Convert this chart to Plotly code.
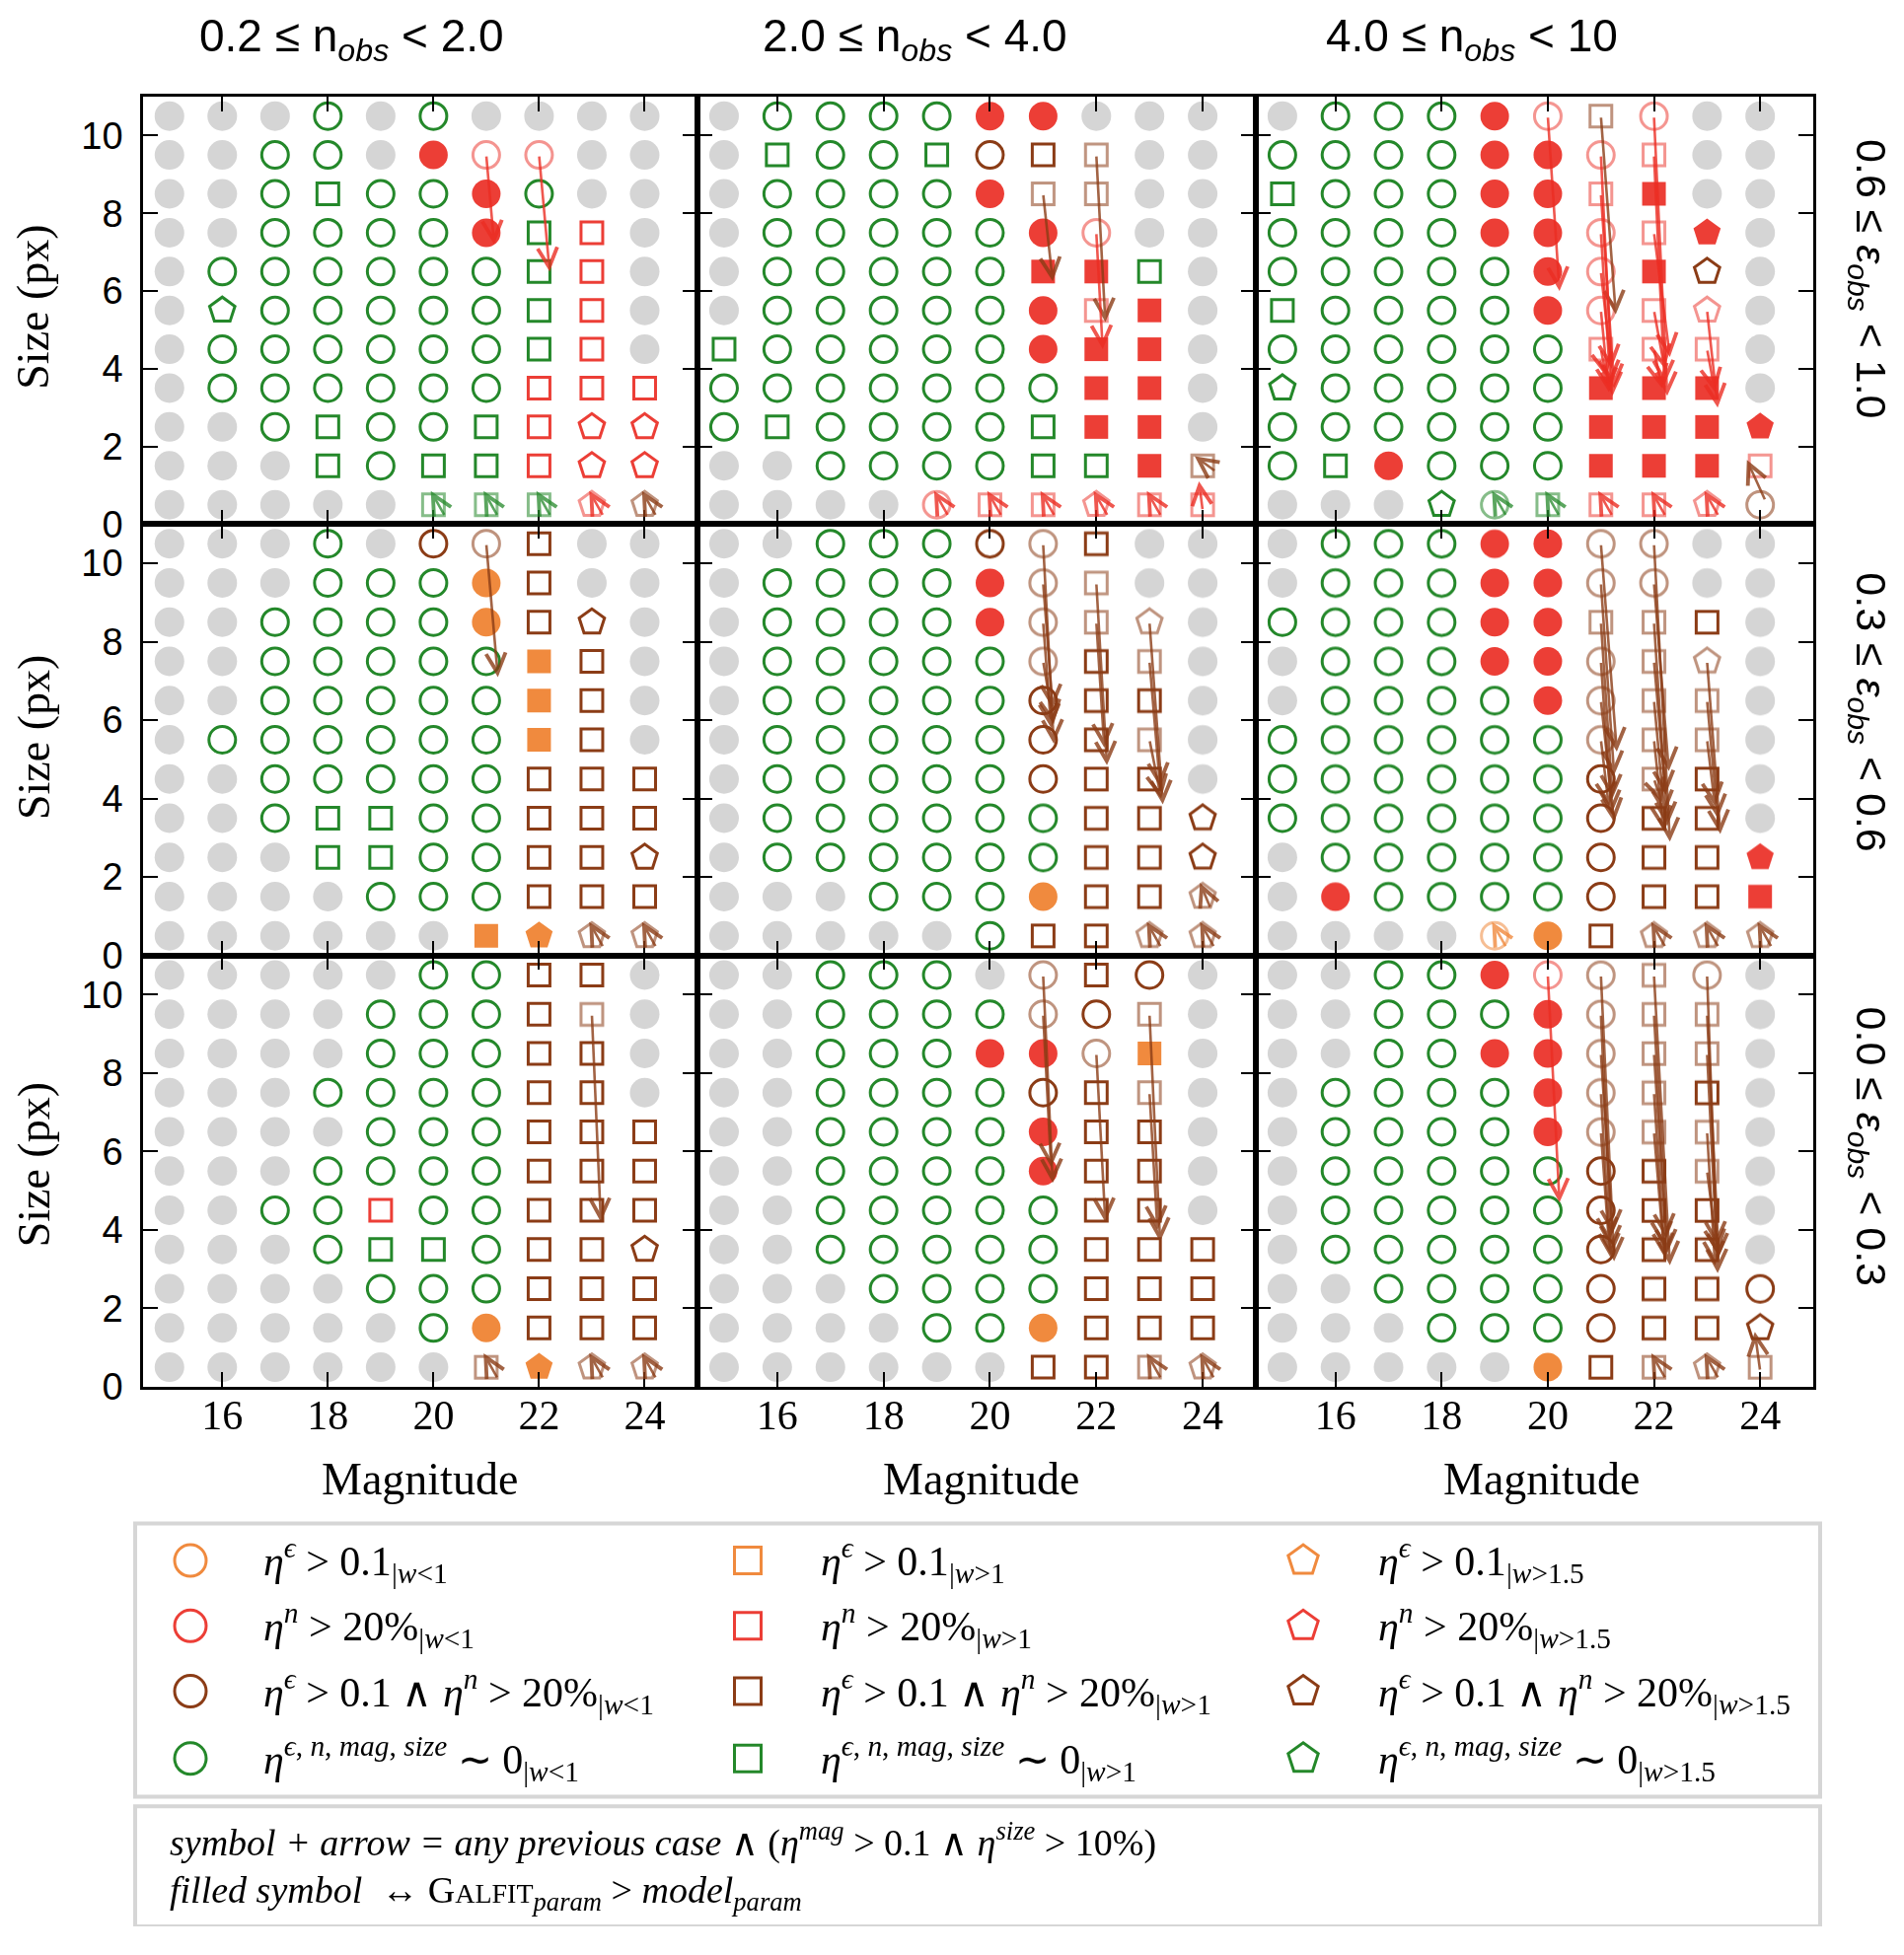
import plotly.graph_objects as go

# ---------------- data ----------------
MAGS = [15, 16, 17, 18, 19, 20, 21, 22, 23, 24]
SIZES = [10.5, 9.5, 8.5, 7.5, 6.5, 5.5, 4.5, 3.5, 2.5, 1.5, 0.5]
X_TICKS = [16, 18, 20, 22, 24]
Y_TICKS = [0, 2, 4, 6, 8, 10]

N_LABELS = ['0.2 ≤ n<sub><i>obs</i></sub> &lt; 2.0',
            '2.0 ≤ n<sub><i>obs</i></sub> &lt; 4.0',
            '4.0 ≤ n<sub><i>obs</i></sub> &lt; 10']
E_LABELS = ['0.6 ≤ <i>ε<sub>obs</sub></i> &lt; 1.0',
            '0.3 ≤ <i>ε<sub>obs</sub></i> &lt; 0.6',
            '0.0 ≤ <i>ε<sub>obs</sub></i> &lt; 0.3']

# cell codes, top row = size 10.5 : '.' no data (grey)
# colour g/r/b/a (green, red, brown, orange) + shape o/s/p, upper case = filled,
# '*' = symbol with arrow (drawn faded)
GRID_E06_N02 = [
    '.   .   .   go  .   go  .   .   .   .',
    '.   .   go  go  .   rO  ro* ro* .   .',
    '.   .   go  gs  go  go  rO  go  .   .',
    '.   .   go  go  go  go  rO  gs  rs  .',
    '.   go  go  go  go  go  go  gs  rs  .',
    '.   gp  go  go  go  go  go  gs  rs  .',
    '.   go  go  go  go  go  go  gs  rs  .',
    '.   go  go  go  go  go  go  rs  rs  rs',
    '.   .   go  gs  go  go  gs  rs  rp  rp',
    '.   .   .   gs  go  gs  gs  rs  rp  rp',
    '.   .   .   .   .   gs* gs* gs* rp* bp*',
]
GRID_E06_N2 = [
    '.   go  go  go  go  rO  rO  .   .   .',
    '.   gs  go  go  gs  bo  bs  bs* .   .',
    '.   go  go  go  go  rO  bs* bs* .   .',
    '.   go  go  go  go  go  rO  ro* .   .',
    '.   go  go  go  go  go  rS  rS  gs  .',
    '.   go  go  go  go  go  rO  rs* rS  .',
    'gs  go  go  go  go  go  rO  rS  rS  .',
    'go  go  go  go  go  go  go  rS  rS  .',
    'go  gs  go  go  go  go  gs  rS  rS  .',
    '.   .   go  go  go  go  gs  gs  rS  bs*',
    '.   .   .   .   ro* rs* rs* rp* rs* rs*',
]
GRID_E06_N4 = [
    '.   go  go  go  rO  ro* bs* ro* .   .',
    'go  go  go  go  rO  rO  ro* rs* .   .',
    'gs  go  go  go  rO  rO  rs* rS  .   .',
    'go  go  go  go  rO  rO  ro* rs* rP  .',
    'go  go  go  go  go  rO  ro* rS  bp  .',
    'gs  go  go  go  go  rO  ro* rs* rp* .',
    'go  go  go  go  go  go  rs* rs* rs* .',
    'gp  go  go  go  go  go  rS  rS  rS  .',
    'go  go  go  go  go  go  rS  rS  rS  rP',
    'go  gs  rO  go  go  go  rS  rS  rS  rs*',
    '.   .   .   gp  go* gs* rs* rs* rp* bo*',
]
GRID_E03_N02 = [
    '.   .   .   go  .   bo  bo* bs  .   .',
    '.   .   .   go  go  go  aO  bs  .   .',
    '.   .   go  go  go  go  aO  bs  bp  .',
    '.   .   go  go  go  go  go  aS  bs  .',
    '.   .   go  go  go  go  go  aS  bs  .',
    '.   go  go  go  go  go  go  aS  bs  .',
    '.   .   go  go  go  go  go  bs  bs  bs',
    '.   .   go  gs  gs  go  go  bs  bs  bs',
    '.   .   .   gs  gs  go  go  bs  bs  bp',
    '.   .   .   .   go  go  go  bs  bs  bs',
    '.   .   .   .   .   .   aS  aP  bp* bp*',
]
GRID_E03_N2 = [
    '.   .   go  go  go  bo  bo* bs  .   .',
    '.   go  go  go  go  rO  bo* bs* .   .',
    '.   go  go  go  go  rO  bo* bs* bp* .',
    '.   go  go  go  go  go  bo* bs  bs* .',
    '.   go  go  go  go  go  bo  bs  bs  .',
    '.   go  go  go  go  go  bo  bs  bs* .',
    '.   go  go  go  go  go  bo  bs  bs  .',
    '.   go  go  go  go  go  go  bs  bs  bp',
    '.   go  go  go  go  go  go  bs  bs  bp',
    '.   .   .   go  go  go  aO  bs  bs  bp*',
    '.   .   .   .   .   go  bs  bs  bp* bp*',
]
GRID_E03_N4 = [
    '.   go  go  go  rO  rO  bo* bo* .   .',
    '.   go  go  go  rO  rO  bo* bo* .   .',
    'go  go  go  go  rO  rO  bs* bs* bs  .',
    '.   go  go  go  rO  rO  bo* bs* bp* .',
    '.   go  go  go  go  rO  bo* bs* bs* .',
    'go  go  go  go  go  go  bo* bs* bs* .',
    'go  go  go  go  go  go  bo  bs* bs  .',
    'go  go  go  go  go  go  bo  bs  bs  .',
    '.   go  go  go  go  go  bo  bs  bs  rP',
    '.   rO  go  go  go  go  bo  bs  bs  rS',
    '.   .   .   .   ao* aO  bs  bp* bp* bp*',
]
GRID_E00_N02 = [
    '.   .   .   .   .   go  go  bs  bs  .',
    '.   .   .   .   go  go  go  bs  bs* .',
    '.   .   .   .   go  go  go  bs  bs  .',
    '.   .   .   go  go  go  go  bs  bs  .',
    '.   .   .   .   go  go  go  bs  bs  bs',
    '.   .   .   go  go  go  go  bs  bs  bs',
    '.   .   go  go  rs  go  go  bs  bs  bs',
    '.   .   .   go  gs  gs  go  bs  bs  bp',
    '.   .   .   .   go  go  go  bs  bs  bs',
    '.   .   .   .   .   go  aO  bs  bs  bs',
    '.   .   .   .   .   .   bs* aP  bp* bp*',
]
GRID_E00_N2 = [
    '.   .   go  go  go  .   bo* bs  bo  .',
    '.   .   go  go  go  go  bo* bo  bs* .',
    '.   .   go  go  go  rO  rO  bo* aS  .',
    '.   .   go  go  go  go  bo  bs  bs* .',
    '.   .   go  go  go  go  rO  bs  bs  .',
    '.   .   go  go  go  go  rO  bs  bs  .',
    '.   .   go  go  go  go  go  bs  bs  .',
    '.   .   go  go  go  go  go  bs  bs  bs',
    '.   .   .   go  go  go  go  bs  bs  bs',
    '.   .   .   .   go  go  aO  bs  bs  bs',
    '.   .   .   .   .   .   bs  bs  bs* bp*',
]
GRID_E00_N4 = [
    '.   .   go  go  rO  ro* bo* bs* bo* .',
    '.   .   go  go  go  rO  bo* bs* bs* .',
    '.   .   go  go  rO  rO  bo* bs* bs* .',
    '.   go  go  go  go  rO  bo* bs* bs  .',
    '.   go  go  go  go  rO  bo* bs* bs* .',
    '.   go  go  go  go  go  bo  bs  bs* .',
    '.   go  go  go  go  go  bo  bs  bs  .',
    '.   go  go  go  go  go  bo  bs  bs  .',
    '.   .   go  go  go  go  bo  bs  bs  bo',
    '.   .   .   go  go  go  bo  bs  bs  bp',
    '.   .   .   .   .   aO  bs  bs* bp* bs*',
]

# arrows: (mag from, size from, mag to, size to, colour)
ARROWS_E06_N02 = [
    (21, 9.5, 21.15, 7.2, 'r'), (22, 9.5, 22.2, 6.5, 'r'),
    (20.22, 0.2, 19.95, 0.85, 'g'), (21.22, 0.2, 20.95, 0.85, 'g'),
    (22.22, 0.2, 21.95, 0.85, 'g'), (23.22, 0.2, 22.95, 0.85, 'r'),
    (24.22, 0.2, 23.95, 0.85, 'b'),
]
ARROWS_E06_N2 = [
    (21, 8.5, 21.18, 6.25, 'b'), (22, 9.5, 22.17, 5.2, 'b'), (22, 7.5, 22.12, 4.5, 'r'),
    (24.25, 1.35, 23.85, 1.75, 'b'), (24.0, 0.35, 23.93, 1.1, 'r'),
    (19.22, 0.2, 18.95, 0.85, 'r'), (20.22, 0.2, 19.95, 0.85, 'r'),
    (21.22, 0.2, 20.95, 0.85, 'r'), (22.22, 0.2, 21.95, 0.85, 'r'),
    (23.22, 0.2, 22.95, 0.85, 'r'),
]
ARROWS_E06_N4 = [
    (20, 10.5, 20.22, 6.0, 'r'), (21, 10.5, 21.28, 5.4, 'b'),
    (21, 9.5, 21.22, 3.3, 'r'), (21, 8.5, 21.25, 3.5, 'r'), (21, 7.5, 21.18, 3.6, 'r'),
    (21, 6.5, 21.2, 4.0, 'r'), (21, 5.5, 21.15, 3.4, 'r'), (21, 4.5, 21.1, 3.8, 'r'),
    (22, 10.5, 22.25, 3.3, 'r'), (22, 9.5, 22.2, 3.6, 'r'), (22, 7.5, 22.3, 4.3, 'r'),
    (22, 5.5, 22.2, 4.0, 'r'), (22, 4.5, 22.15, 3.5, 'r'),
    (23, 5.5, 23.2, 3.0, 'r'), (23, 4.5, 23.15, 3.4, 'r'),
    (24.1, 0.6, 23.75, 1.65, 'b'),
    (19.22, 0.2, 18.95, 0.85, 'g'), (20.22, 0.2, 19.95, 0.85, 'g'),
    (21.22, 0.2, 20.95, 0.85, 'r'), (22.22, 0.2, 21.95, 0.85, 'r'),
    (23.22, 0.2, 22.95, 0.85, 'r'),
]
ARROWS_E03_N02 = [
    (21, 10.5, 21.22, 7.1, 'b'),
    (23.22, 0.2, 22.95, 0.85, 'b'), (24.22, 0.2, 23.95, 0.85, 'b'),
]
ARROWS_E03_N2 = [
    (21, 10.5, 21.2, 5.4, 'b'), (21, 9.5, 21.18, 6.3, 'b'), (21, 8.5, 21.15, 5.8, 'b'),
    (21, 7.5, 21.2, 5.9, 'b'),
    (22, 9.5, 22.2, 4.85, 'b'), (22, 8.5, 22.15, 5.3, 'b'),
    (23, 8.5, 23.25, 3.85, 'b'), (23, 7.5, 23.2, 4.3, 'b'), (23, 5.5, 23.22, 4.0, 'b'),
    (24.15, 1.2, 23.95, 1.85, 'b'),
    (23.22, 0.2, 22.95, 0.85, 'b'), (24.22, 0.2, 23.95, 0.85, 'b'),
]
ARROWS_E03_N4 = [
    (21, 10.5, 21.3, 5.2, 'b'), (21, 9.5, 21.25, 4.6, 'b'), (21, 8.5, 21.22, 4.0, 'b'),
    (21, 7.5, 21.2, 3.6, 'b'), (21, 6.5, 21.25, 3.4, 'b'), (21, 5.5, 21.15, 3.8, 'b'),
    (22, 10.5, 22.3, 2.9, 'b'), (22, 9.5, 22.28, 4.7, 'b'), (22, 8.5, 22.25, 3.3, 'b'),
    (22, 7.5, 22.22, 4.1, 'b'), (22, 6.5, 22.2, 3.6, 'b'), (22, 5.5, 22.18, 3.2, 'b'),
    (22, 4.5, 22.15, 3.9, 'b'),
    (23, 7.5, 23.25, 3.1, 'b'), (23, 6.5, 23.2, 3.5, 'b'), (23, 5.5, 23.15, 3.8, 'b'),
    (19.22, 0.2, 18.95, 0.85, 'a'), (22.22, 0.2, 21.95, 0.85, 'b'),
    (23.22, 0.2, 22.95, 0.85, 'b'), (24.22, 0.2, 23.95, 0.85, 'b'),
]
ARROWS_E00_N02 = [
    (23, 9.5, 23.17, 4.2, 'b'),
    (21.22, 0.2, 20.95, 0.85, 'b'), (23.22, 0.2, 22.95, 0.85, 'b'),
    (24.22, 0.2, 23.95, 0.85, 'b'),
]
ARROWS_E00_N2 = [
    (21, 10.5, 21.18, 5.2, 'b'), (21, 9.5, 21.15, 5.6, 'b'),
    (22, 8.5, 22.17, 4.2, 'b'),
    (23, 9.5, 23.2, 3.7, 'b'), (23, 7.5, 23.15, 4.0, 'b'),
    (23.22, 0.2, 22.95, 0.85, 'b'), (24.22, 0.2, 23.95, 0.85, 'b'),
]
ARROWS_E00_N4 = [
    (20, 10.5, 20.22, 4.7, 'r'),
    (21, 10.5, 21.25, 3.2, 'b'), (21, 9.5, 21.2, 3.5, 'b'), (21, 8.5, 21.22, 3.9, 'b'),
    (21, 7.5, 21.18, 3.3, 'b'), (21, 6.5, 21.15, 3.7, 'b'),
    (22, 10.5, 22.3, 3.1, 'b'), (22, 9.5, 22.25, 3.4, 'b'), (22, 8.5, 22.22, 3.8, 'b'),
    (22, 7.5, 22.2, 3.3, 'b'), (22, 6.5, 22.18, 3.6, 'b'),
    (23, 10.5, 23.2, 2.9, 'b'), (23, 9.5, 23.22, 3.3, 'b'), (23, 8.5, 23.18, 3.6, 'b'),
    (23, 6.5, 23.15, 3.1, 'b'), (23, 5.5, 23.2, 3.4, 'b'),
    (24.0, 0.4, 23.9, 1.4, 'b'),
    (22.22, 0.2, 21.95, 0.85, 'b'), (23.22, 0.2, 22.95, 0.85, 'b'),
]

GRIDS = [[GRID_E06_N02, GRID_E06_N2, GRID_E06_N4],
         [GRID_E03_N02, GRID_E03_N2, GRID_E03_N4],
         [GRID_E00_N02, GRID_E00_N2, GRID_E00_N4]]
ARROWS = [[ARROWS_E06_N02, ARROWS_E06_N2, ARROWS_E06_N4],
          [ARROWS_E03_N02, ARROWS_E03_N2, ARROWS_E03_N4],
          [ARROWS_E00_N02, ARROWS_E00_N2, ARROWS_E00_N4]]

# legend
LEG_COLOURS = ['a', 'r', 'b', 'g']
LEG_SHAPES = ['o', 's', 'p']
LEG_COND = ['&lt;1', '&gt;1', '&gt;1.5']
LEG_TEXT = [
    '<i>η</i><sup><i>ϵ</i></sup> &gt; 0.1<sub>|<i>w</i>{}</sub>',
    '<i>η</i><sup><i>n</i></sup> &gt; 20%<sub>|<i>w</i>{}</sub>',
    '<i>η</i><sup><i>ϵ</i></sup> &gt; 0.1 ∧ <i>η</i><sup><i>n</i></sup> &gt; 20%<sub>|<i>w</i>{}</sub>',
    '<i>η</i><sup><i>ϵ</i>, <i>n</i>, <i>mag</i>, <i>size</i></sup> ∼ 0<sub>|<i>w</i>{}</sub>',
]
NOTE_TEXT = [
    '<i>symbol + arrow = any previous case</i> ∧ (<i>η</i><sup><i>mag</i></sup> &gt; 0.1 ∧ '
    '<i>η</i><sup><i>size</i></sup> &gt; 10%)',
    '<i>filled symbol</i>  ↔ G<span style="font-size:28px">ALFIT</span><sub><i>param</i></sub>'
    ' &gt; <i>model</i><sub><i>param</i></sub>',
]

# ---------------- style ----------------
COLOURS = {'g': '#24882a', 'r': '#ec3e36', 'b': '#8b3c16', 'a': '#f08a3e'}
ARROW_COLOURS = {'g': 'rgba(36,136,42,0.75)', 'r': 'rgba(236,45,35,0.8)',
                 'b': 'rgba(139,60,22,0.8)', 'a': 'rgba(240,138,62,0.8)'}
GREY = '#d5d5d5'
SYMBOLS = {'o': 'circle', 's': 'square', 'p': 'pentagon'}
OPEN_SIZE = {'o': 27, 's': 22, 'p': 27}
FILL_SIZE = {'o': 29, 's': 24, 'p': 29}
SERIF = 'Liberation Serif'
SANS = 'Liberation Sans'

PAGE_W, PAGE_H = 1930, 1982
OFF = 8
FIG_W, FIG_H = PAGE_W - 2 * OFF, PAGE_H - 2 * OFF
COL_EDGES = [145, 707, 1273, 1838]
ROW_EDGES = [99, 537, 979, 1421]


def fx(p):
    return (p - OFF) / FIG_W


def fy(p):
    return 1 - (p - OFF) / FIG_H


def marker_for(code):
    if code == '.':
        return dict(symbol='circle', size=30, color=GREY, line=dict(width=0)), 1.0
    faded = code.endswith('*')
    col = COLOURS[code[0]]
    shp = code[1]
    if shp.isupper():
        m = dict(symbol=SYMBOLS[shp.lower()], size=FILL_SIZE[shp.lower()], color=col,
                 line=dict(width=0))
    else:
        m = dict(symbol=SYMBOLS[shp] + '-open', size=OPEN_SIZE[shp], color=col,
                 line=dict(width=3, color=col))
    return m, (0.55 if faded else 1.0)


def label(x, y, text, size, family, angle=0, xanchor='center'):
    return dict(x=fx(x), y=fy(y), xref='paper', yref='paper', text=text, showarrow=False,
                textangle=angle, xanchor=xanchor, yanchor='middle',
                font=dict(family=family, size=size, color='black'))


fig = go.Figure()
annotations = []

for r in range(3):
    for c in range(3):
        k = r * 3 + c + 1
        xa, ya = ('x' if k == 1 else f'x{k}'), ('y' if k == 1 else f'y{k}')
        groups = {}
        for i, row in enumerate(GRIDS[r][c]):
            for j, code in enumerate(row.split()):
                groups.setdefault(code, ([], []))
                groups[code][0].append(MAGS[j])
                groups[code][1].append(SIZES[i])
        # grey first, then the rest
        for code in sorted(groups, key=lambda s: (s != '.', s)):
            m, op = marker_for(code)
            fig.add_trace(go.Scatter(x=groups[code][0], y=groups[code][1], mode='markers',
                                     marker=m, opacity=op, xaxis=xa, yaxis=ya,
                                     showlegend=False, hoverinfo='skip'))
        for (x0, y0, x1, y1, col) in ARROWS[r][c]:
            annotations.append(dict(x=x1, y=y1, ax=x0, ay=y0, xref=xa, yref=ya,
                                    axref=xa, ayref=ya, text='', showarrow=True,
                                    arrowhead=5, arrowsize=1.5, arrowwidth=2.6,
                                    arrowcolor=ARROW_COLOURS[col], standoff=0))

        axis_common = dict(showgrid=False, zeroline=False, showline=True, linewidth=2.5,
                           linecolor='black', mirror='allticks', ticks='inside',
                           ticklen=15, tickwidth=2, tickcolor='black')
        fig.layout[('xaxis' if k == 1 else f'xaxis{k}')] = dict(
            domain=[fx(COL_EDGES[c]), fx(COL_EDGES[c + 1])], range=[14.5, 25],
            tickvals=X_TICKS, showticklabels=(r == 2), anchor=ya,
            tickfont=dict(family=SERIF, size=42, color='black'), ticklabelstandoff=-10,
            **axis_common)
        fig.layout[('yaxis' if k == 1 else f'yaxis{k}')] = dict(
            domain=[fy(ROW_EDGES[r + 1]), fy(ROW_EDGES[r])], range=[0, 11],
            tickvals=Y_TICKS, showticklabels=(c == 0), anchor=xa,
            tickfont=dict(family=SANS, size=38, color='black'), ticklabelstandoff=10,
            **axis_common)

# column / row labels and axis titles
COL_TITLE_X = [356, 927, 1492]
MAG_TITLE_X = [425, 994, 1562]
for c in range(3):
    annotations.append(label(COL_TITLE_X[c], 40, N_LABELS[c], 46, SANS))
    annotations.append(label(MAG_TITLE_X[c], 1516, 'Magnitude', 46, SERIF))
ROW_LABEL_Y = [286, 730, 1175]
SIZE_TITLE_Y = [315, 756, 1194]
for r in range(3):
    annotations.append(label(1894, ROW_LABEL_Y[r], E_LABELS[r], 43, SANS, angle=90))
    annotations.append(label(34, SIZE_TITLE_Y[r], 'Size (px)', 46, SERIF, angle=-90))

# legend panel on an overlay axis in page pixels
LEG_SYM_X = [193, 758, 1321]
LEG_TXT_X = [265, 830, 1395]
LEG_ROW_Y = [1599, 1666, 1733, 1802]
fig.layout['xaxis10'] = dict(domain=[0, 1], range=[OFF, OFF + FIG_W], visible=False,
                             anchor='y10', fixedrange=True)
fig.layout['yaxis10'] = dict(domain=[0, 1], range=[OFF + FIG_H, OFF], visible=False,
                             anchor='x10', fixedrange=True)
for i, colkey in enumerate(LEG_COLOURS):
    for j, shp in enumerate(LEG_SHAPES):
        m, _ = marker_for(colkey + shp)
        m = dict(m, size=OPEN_SIZE[shp] + 5)
        fig.add_trace(go.Scatter(x=[LEG_SYM_X[j]], y=[LEG_ROW_Y[i]], mode='markers',
                                 marker=m, xaxis='x10', yaxis='y10', showlegend=False,
                                 hoverinfo='skip'))
        annotations.append(dict(x=LEG_TXT_X[j], y=LEG_ROW_Y[i], xref='x10', yref='y10',
                                text=LEG_TEXT[i].format(LEG_COND[j]), showarrow=False,
                                xanchor='left', yanchor='middle',
                                font=dict(family=SERIF, size=42, color='black')))
NOTE_Y = [1886, 1940]
for i, t in enumerate(NOTE_TEXT):
    annotations.append(dict(x=170, y=NOTE_Y[i], xref='x10', yref='y10', text=t,
                            showarrow=False, xanchor='left', yanchor='middle',
                            font=dict(family=SERIF, size=38, color='black')))

shapes = [
    dict(type='rect', xref='x10', yref='y10', x0=137, x1=1845, y0=1561, y1=1841,
         line=dict(color='#d6d6d6', width=4), layer='below'),
    dict(type='rect', xref='x10', yref='y10', x0=137, x1=1845, y0=1851, y1=1974,
         line=dict(color='#d6d6d6', width=4), layer='below'),
]

fig.update_layout(width=FIG_W, height=FIG_H, margin=dict(l=0, r=0, t=0, b=0),
                  paper_bgcolor='white', plot_bgcolor='rgba(0,0,0,0)',
                  annotations=annotations, shapes=shapes, showlegend=False)

fig.write_html("out.html")
